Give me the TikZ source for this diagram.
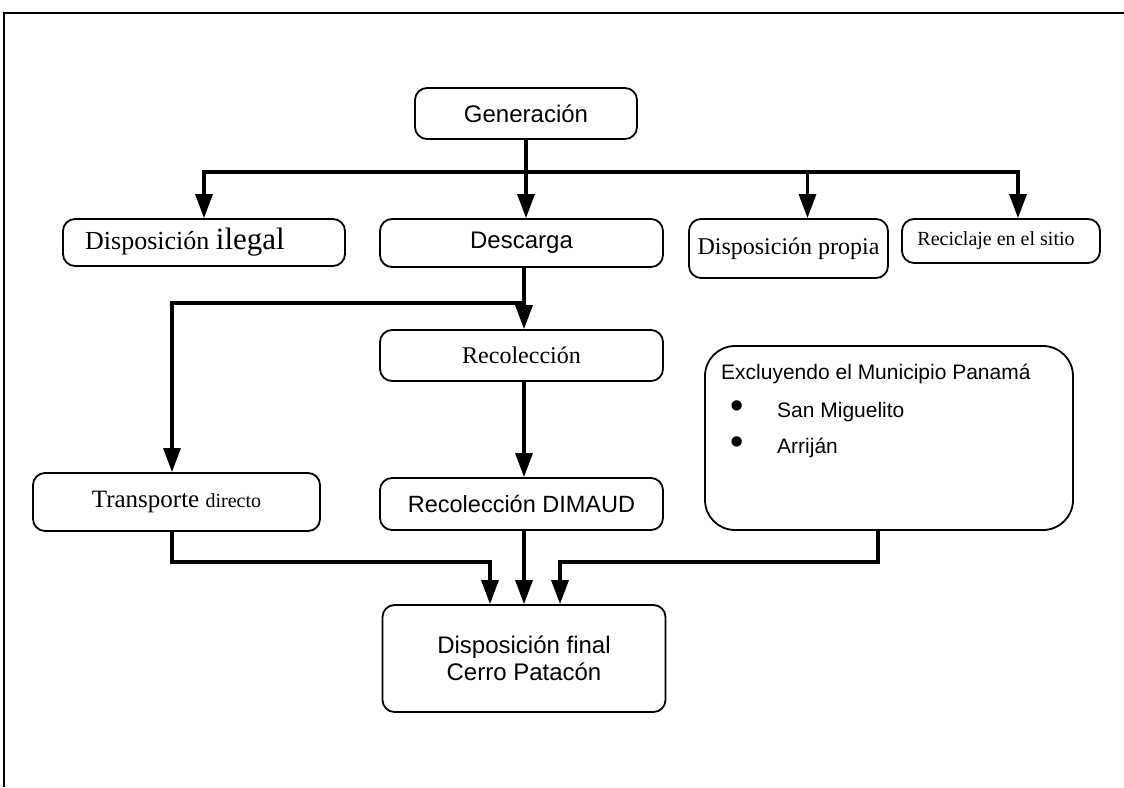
\documentclass[tikz,border=0pt]{standalone}
\usepackage{fontspec}
\setmainfont{Liberation Serif}
\newfontfamily\arial{Liberation Sans}
\usetikzlibrary{arrows.meta,calc}
\begin{document}
\begin{tikzpicture}[x=1pt,y=-1pt,
  box/.style={draw,line width=1.8pt,rounded corners=12pt,inner sep=0pt},
  conn/.style={line width=3.2pt},
  arr/.style={line width=3.2pt,-{Triangle[length=24pt,width=17pt]}},
  sf/.style={font=\arial\fontsize{24}{28}\selectfont},
  exf/.style={font=\arial\fontsize{21}{24}\selectfont,inner sep=0pt,anchor=west},
  bul/.style={font=\arial\fontsize{38}{38}\selectfont,inner sep=0pt}]
\useasboundingbox (0,0) rectangle (1124,787);
\draw[line width=2pt] (4,787) -- (4,13) -- (1124,13);
% nodes
\node[box,sf,minimum width=222pt,minimum height=51pt] (gen) at (526,113.5) {Generación};
\node[box,minimum width=282pt,minimum height=47pt] (dil) at (204,242.5) {\fontsize{26}{30}\selectfont Disposición \fontsize{31}{34}\selectfont ilegal\hspace*{38pt}};
\node[box,sf,minimum width=283pt,minimum height=48pt] (des) at (521.5,243) {Descarga};
\node[box,minimum width=199pt,minimum height=59pt] (dpr) at (788.5,248.5) {\fontsize{24}{28}\selectfont Disposición propia};
\node[box,minimum width=198pt,minimum height=44pt] (rec) at (1001,241) {\fontsize{20}{23}\selectfont Reciclaje en el sitio\hspace*{10pt}};
\node[box,minimum width=283pt,minimum height=51pt] (rcl) at (521.5,355.5) {\fontsize{24}{28}\selectfont Recolección};
\node[box,minimum width=287pt,minimum height=58pt] (tra) at (176.5,502) {\fontsize{25}{29}\selectfont Transporte \fontsize{20}{24}\selectfont directo};
\node[box,font=\arial\fontsize{23.5}{28}\selectfont,minimum width=283pt,minimum height=52pt] (dim) at (521.5,504) {Recolección DIMAUD};
\node[box,rounded corners=30pt,minimum width=368pt,minimum height=184pt] (exc) at (889,438) {};
\node[exf] (exct) at (721,374) {Excluyendo el Municipio Panamá};
\node[bul] (b1) at (737,410) {•};
\node[exf] (sm) at (777,412) {San Miguelito};
\node[bul] (b2) at (737,446) {•};
\node[exf] (ar) at (777,448) {Arriján};
\node[box,align=center,minimum width=283pt,minimum height=107pt,font=\arial\fontsize{24}{27}\selectfont] (fin) at (524,658.5) {Disposición final\\Cerro Patacón};
% connectors
\coordinate (j1) at (gen.south |- 0,172);
\draw[conn] (gen.south) -- (j1);
\draw[arr] (j1) -| (dil.north);
\draw[arr] (j1) -- (j1 |- des.north);
\draw[arr] (j1) -| ([xshift=19pt]dpr.north);
\draw[arr] (j1) -| ([xshift=17pt]rec.north);
\coordinate (j2) at (524,303);
\draw[conn] (des.south -| j2) -- (j2);
\draw[arr] (j2) -| (tra.north -| 172,0);
\draw[arr] (j2) -- (rcl.north -| j2);
\draw[arr] (rcl.south -| j2) -- (dim.north -| j2);
\draw[arr] (tra.south -| 172,0) |- (490,562) -- (fin.north -| 490,0);
\draw[arr] (dim.south -| 524,0) -- (fin.north -| 524,0);
\draw[arr] (exc.south -| 878,0) |- (560,562) -- (fin.north -| 560,0);
\end{tikzpicture}
\end{document}
